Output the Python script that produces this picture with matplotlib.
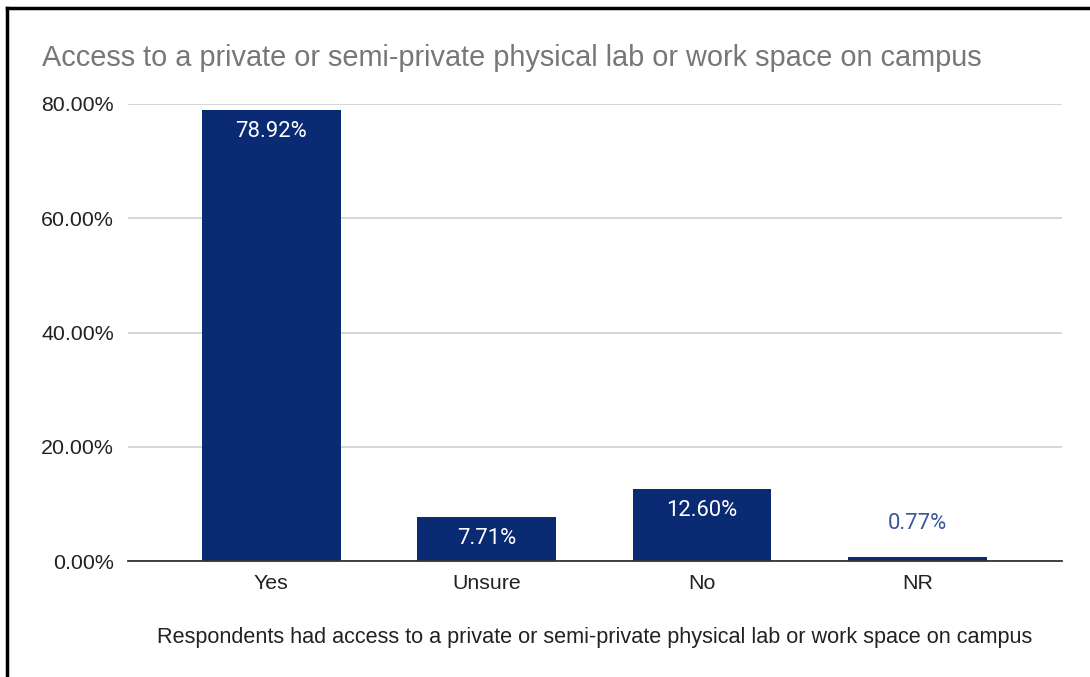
import matplotlib.pyplot as plt
from matplotlib.lines import Line2D
from matplotlib.ticker import FuncFormatter

# -------- DATA --------
categories = ["Yes", "Unsure", "No", "NR"]
shares = [78.92, 7.71, 12.60, 0.77]
y_ticks = [0, 20, 40, 60, 80]

bar_color = "#0b2a74"

# -------- FIGURE --------
fig = plt.figure(figsize=(10.9, 6.77), dpi=100)
ax = fig.add_axes([0.1174, 0.1713, 0.8569, 0.6751])

x = list(range(len(categories)))
bars = ax.bar(x, shares, width=0.643, color=bar_color, zorder=3)

ax.set_xlim(-0.665, 3.67)
ax.set_ylim(0, 80)
ax.set_yticks(y_ticks)
ax.yaxis.set_major_formatter(FuncFormatter(lambda v, p: f"{v:.2f}%"))
ax.set_xticks(x)
ax.set_xticklabels(categories)

ax.grid(axis="y", color="#cccccc", linewidth=1.1, zorder=0)
for side in ["top", "right", "left"]:
    ax.spines[side].set_visible(False)
ax.spines["bottom"].set_color("#333333")
ax.spines["bottom"].set_linewidth(1.3)
ax.spines["bottom"].set_zorder(4)
ax.tick_params(axis="both", length=0, labelsize=15.4, colors="#222222",
               labelfontfamily="Liberation Sans")
ax.tick_params(axis="y", pad=10)
ax.tick_params(axis="x", pad=9)

# value labels: inside tall bars, above the tiny one
for b, v in zip(bars, shares):
    cx = b.get_x() + b.get_width() / 2
    if v > 3:
        ax.annotate(f"{v:.2f}%", (cx, v), xytext=(0, -8), textcoords="offset points",
                    ha="center", va="top", color="white", fontsize=15.8,
                    family="Roboto")
    else:
        ax.annotate(f"{v:.2f}%", (cx, v), xytext=(0, 16), textcoords="offset points",
                    ha="center", va="bottom", color="#3a569b", fontsize=15.8,
                    family="Roboto")

ax.set_xlabel("Respondents had access to a private or semi-private physical lab or work space on campus",
              fontsize=15.6, color="#222222", family="Liberation Sans", labelpad=25)

fig.text(0.0385, 0.915, "Access to a private or semi-private physical lab or work space on campus",
         fontsize=20.8, color="#777777", family="Liberation Sans", va="center")

# frame lines along top and left
fig.add_artist(Line2D([0.006, 1.0], [0.988, 0.988], color="black", linewidth=2.5))
fig.add_artist(Line2D([0.0065, 0.0065], [0.0, 0.988], color="black", linewidth=2.5))

fig.savefig("out.png", dpi=100)
